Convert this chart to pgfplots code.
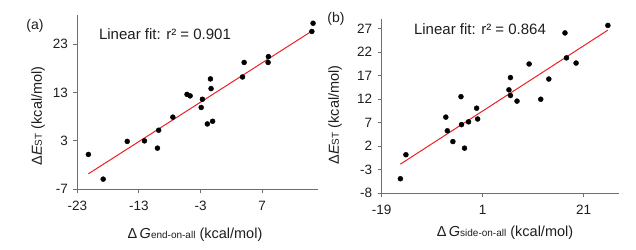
\documentclass[border=0pt]{standalone}
\usepackage{pgfplots}
\pgfplotsset{compat=1.18}
\usepackage{fontspec}
\setmainfont{Liberation Sans}
\definecolor{axgray}{RGB}{110,110,110}
\definecolor{fitred}{RGB}{236,32,36}
\definecolor{txt}{RGB}{30,30,30}
\pgfplotstableread{
x y
-21.2 0.2
-18.8 -4.9
-14.9 2.9
-12.1 3.0
-10.0 1.5
-9.8 5.2
-7.5 7.9
-5.2 12.6
-4.7 12.3
-2.9 9.9
-2.7 11.6
-1.9 6.5
-1.4 15.8
-1.3 13.8
-1.05 7.05
3.8 16.2
4.07 19.2
7.95 19.2
8.0 20.4
15.05 25.6
15.25 27.3
}\dataA
\pgfplotstableread{
x y
-15.3 -4.9
-14.2 0.2
-6.3 8.2
-6.0 5.3
-4.9 3.0
-3.3 12.55
-3.2 6.6
-2.6 1.6
-1.8 7.2
-0.2 10.1
0.0 7.8
6.2 14.0
6.5 16.6
6.5 12.8
7.8 11.6
10.2 19.5
12.5 12.0
14.1 16.3
17.3 26.1
17.6 20.8
19.5 19.7
25.8 27.7
}\dataB
\begin{document}
\begin{tikzpicture}[x=1pt,y=1pt]
\useasboundingbox (0,0) rectangle (636,249);
\pgfplotsset{
 myax/.style={scale only axis, anchor=south west,
  axis x line=bottom, axis y line=left,
  axis line style={-, draw=axgray, line width=0.9pt},
  tick align=outside, major tick length=4pt,
  tick style={draw=axgray, line width=0.9pt},
  ticklabel style={font=\fontsize{13.5}{16}\selectfont, text=txt},
  xticklabel style={yshift=-4pt},
  yticklabel style={xshift=-2pt},
  clip=false},
}
\begin{axis}[myax, at={(77.3pt,59.7pt)}, width=240.4pt, height=174.3pt,
  xmin=-23, xmax=16, ymin=-7, ymax=29,
  xtick={-23,-13,-3,7}, xticklabels={-23,-13,-3,7},
  ytick={-7,3,13,23}, yticklabels={-7,3,13,23}]
\addplot[fitred, line width=1pt] coordinates {(-21.2,-3.8) (15.2,25.8)};
\addplot[only marks, mark=*, mark size=2.5pt, black] table[x=x,y=y] {\dataA};
\end{axis}
\begin{axis}[myax, at={(381.7pt,55.7pt)}, width=237.3pt, height=174pt,
  xmin=-19, xmax=28, ymin=-8, ymax=29,
  xtick={-19,1,21}, xticklabels={-19,1,21},
  ytick={-8,-3,2,7,12,17,22,27}, yticklabels={-8,-3,2,7,12,17,22,27}]
\addplot[fitred, line width=1pt] coordinates {(-15.3,-1.8) (25.8,26.7)};
\addplot[only marks, mark=*, mark size=2.5pt, black] table[x=x,y=y] {\dataB};
\end{axis}
\node[font=\fontsize{14}{16}\selectfont, text=txt] at (35,223.5) {(a)};
\node[font=\fontsize{14}{16}\selectfont, text=txt] at (336,230.5) {(b)};
\node[font=\fontsize{15}{18}\selectfont, text=txt] at (165,215) {Linear fit: r² = 0.901};
\node[font=\fontsize{15}{18}\selectfont, text=txt] at (480,220) {Linear fit: r² = 0.864};
\node[font=\fontsize{14.5}{17}\selectfont, text=txt] at (195,14) {Δ\,\textit{G}{\fontsize{10}{11}\selectfont end-on-all} (kcal/mol)};
\node[font=\fontsize{14.5}{17}\selectfont, text=txt] at (505,16.5) {Δ\,\textit{G}{\fontsize{10}{11}\selectfont side-on-all} (kcal/mol)};
\node[font=\fontsize{14.5}{17}\selectfont, text=txt, rotate=90] at (38,133) {Δ\textit{E}{\fontsize{10}{11}\selectfont ST} (kcal/mol)};
\node[font=\fontsize{14.5}{17}\selectfont, text=txt, rotate=90] at (335,134) {Δ\textit{E}{\fontsize{10}{11}\selectfont ST} (kcal/mol)};
\end{tikzpicture}
\end{document}
